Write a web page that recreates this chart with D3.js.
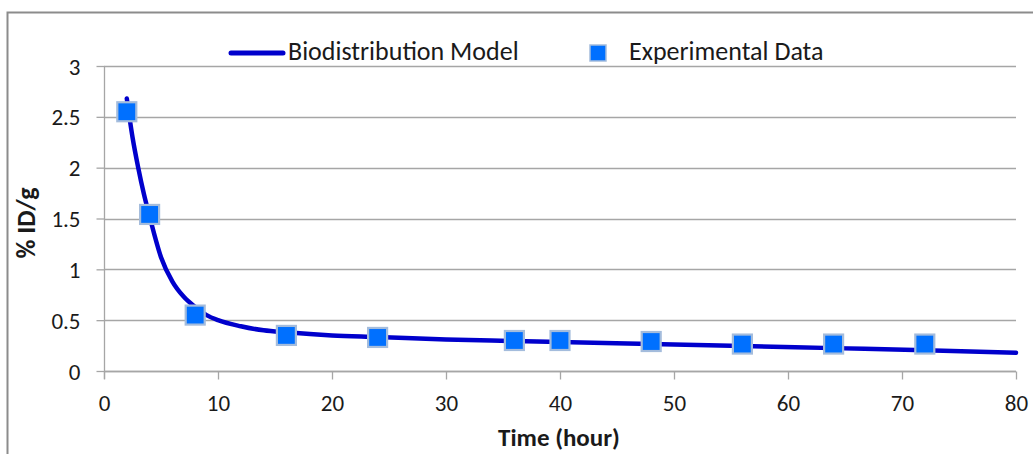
<!DOCTYPE html>
<html><head><meta charset="utf-8">
<script src="https://cdn.jsdelivr.net/npm/d3@7"></script>
<style>
html,body{margin:0;padding:0;background:#fff;}
svg text{font-family:Carlito, Calibri, Lato, "Open Sans", sans-serif;fill:#1a1a1a;}
</style></head>
<body>
<svg id="chart" width="1033" height="454"></svg>
<script>
const xTicks = [0,10,20,30,40,50,60,70,80];
const yTicks = [0,0.5,1,1.5,2,2.5,3];
const expTime = [2,4,8,16,24,36,40,48,56,64,72];
const expValue = [2.55,1.54,0.55,0.35,0.33,0.30,0.30,0.29,0.265,0.265,0.265];
const modelTime = [2,2.5,3,3.5,4,5,6,7,8,9,10,12,14,16,20,24,30,36,40,48,56,64,72,80];
const modelValue = [2.68,2.3,2.0,1.74,1.52,1.12,0.88,0.73,0.63,0.55,0.5,0.44,0.40,0.38,0.35,0.335,0.31,0.295,0.285,0.265,0.245,0.225,0.205,0.18];
const seriesNames = ["Biodistribution Model","Experimental Data"];

const svg = d3.select("#chart");
const x = d3.scaleLinear().domain([0,80]).range([104,1016]);
const y = d3.scaleLinear().domain([0,3]).range([371,66]);
const grid = "#a6a6a6";
const tickFont = 23, textFont = 26;

// outer border
svg.append("rect").attr("x",7.5).attr("y",12.5).attr("width",1040).attr("height",460)
  .attr("fill","none").attr("stroke","#8c8c8c").attr("stroke-width",2);

// gridlines
svg.append("g").selectAll("line").data(yTicks).join("line")
  .attr("x1",x(0)).attr("x2",x(80))
  .attr("y1",d=>Math.round(y(d))+0.5).attr("y2",d=>Math.round(y(d))+0.5)
  .attr("stroke",grid).attr("stroke-width",1.3);

// y axis
const yAxis = svg.append("g").attr("transform",`translate(${x(0)+0.5},0)`)
  .call(d3.axisLeft(y).tickValues(yTicks).tickSize(8).tickPadding(16).tickFormat(d=>String(d)));
yAxis.attr("font-family",null);
yAxis.select(".domain").attr("stroke",grid).attr("stroke-width",1.3).attr("d",`M0,${y(3)}V${y(0)+8}`);
yAxis.selectAll(".tick line").attr("stroke",grid).attr("stroke-width",1.3);
yAxis.selectAll(".tick text").attr("font-size",tickFont).attr("dy","0.35em");

// x axis
const xAxis = svg.append("g").attr("transform",`translate(0,${Math.round(y(0))+0.5})`)
  .call(d3.axisBottom(x).tickValues(xTicks).tickSize(8).tickPadding(15));
xAxis.attr("font-family",null);
xAxis.select(".domain").attr("stroke",grid).attr("stroke-width",1.3).attr("d",`M${x(0)},0H${x(80)}`);
xAxis.selectAll(".tick line").attr("stroke",grid).attr("stroke-width",1.3);
xAxis.selectAll(".tick text").attr("font-size",tickFont);

// axis titles
svg.append("text").attr("x",559).attr("y",440).attr("text-anchor","middle")
  .attr("dominant-baseline","middle").attr("font-size",textFont-1).attr("font-weight","bold").text("Time (hour)");
svg.append("text").attr("transform","translate(29,223) rotate(-90)").attr("text-anchor","middle")
  .attr("dominant-baseline","middle").attr("font-size",textFont).attr("font-weight","bold").text("% ID/g");

// model line
const line = d3.line().x(d=>x(d[0])).y(d=>y(d[1])).curve(d3.curveMonotoneX);
svg.append("path").datum(modelTime.map((t,i)=>[t,modelValue[i]]))
  .attr("d",line).attr("fill","none").attr("stroke","#0000cc").attr("stroke-width",4.5)
  .attr("stroke-linecap","round");

// experimental markers
const ms = 19;
svg.append("g").selectAll("rect").data(expTime.map((t,i)=>[t,expValue[i]])).join("rect")
  .attr("x",d=>x(d[0])-ms/2).attr("y",d=>y(d[1])-ms/2).attr("width",ms).attr("height",ms)
  .attr("fill","#0070ff").attr("stroke","#a4bcdc").attr("stroke-width",2.2);

// legend
const lg = svg.append("g");
lg.append("line").attr("x1",231).attr("x2",283).attr("y1",53).attr("y2",53)
  .attr("stroke","#0000cc").attr("stroke-width",5).attr("stroke-linecap","round");
lg.append("text").attr("x",288).attr("y",54).attr("dominant-baseline","middle")
  .attr("font-size",textFont).text(seriesNames[0]);
lg.append("rect").attr("x",590).attr("y",45).attr("width",16).attr("height",16)
  .attr("fill","#0070ff").attr("stroke","#a4bcdc").attr("stroke-width",1.5);
lg.append("text").attr("x",629).attr("y",54).attr("dominant-baseline","middle")
  .attr("font-size",textFont).text(seriesNames[1]);
</script>
</body></html>
